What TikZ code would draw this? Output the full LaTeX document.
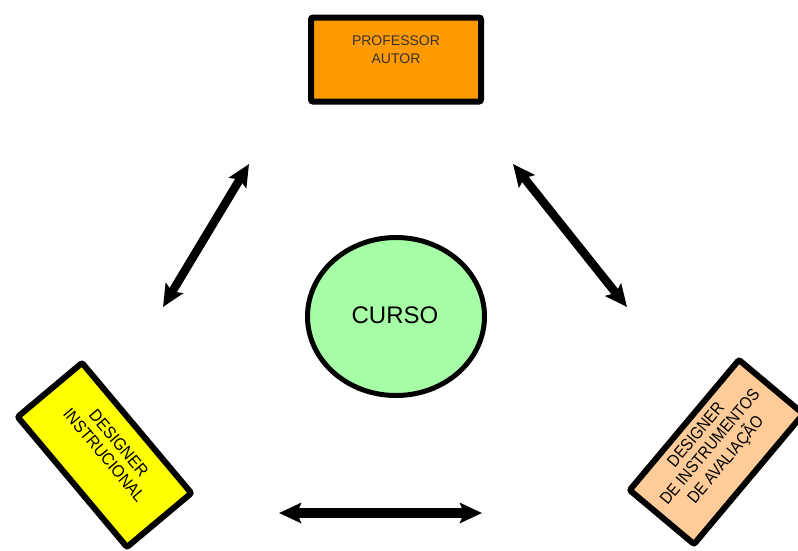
\documentclass[tikz,border=0pt]{standalone}
\usepackage{fontspec}
\setmainfont{Liberation Sans}
\usetikzlibrary{arrows.meta,shapes.geometric,calc}
\definecolor{orangebox}{HTML}{FF9900}
\definecolor{yellowbox}{HTML}{FFFF00}
\definecolor{peachbox}{HTML}{FFCC99}
\definecolor{greenell}{HTML}{A6FFA6}
\definecolor{proftext}{HTML}{333333}
\begin{document}
\begin{tikzpicture}[x=1pt,y=-1pt,
  box/.style={draw=black, line width=6pt, rounded corners=2pt, minimum width=170pt, minimum height=84pt, inner sep=0pt},
  txt/.style={align=center, inner sep=0pt},
  tip/.tip={Stealth[length=22pt,width=20pt,inset=4pt]},
  dbl/.style={line width=8.5pt, {tip}-{tip}}]
\useasboundingbox (0,0) rectangle (798,550);
\clip (0,0) rectangle (798,550);

% boxes
\node[box, fill=orangebox] (prof) at (396,59.5) {};
\node[txt, font=\fontsize{14}{18}\selectfont, text=proftext] (profT) at ($(prof.center)!0.22!(prof.north)$) {PROFESSOR\\AUTOR};

\node[draw=black, line width=5pt, fill=greenell, ellipse, minimum width=177pt, minimum height=158pt, inner sep=0pt] (curso) at (396,316.5) {};
\node[txt, font=\fontsize{24}{28}\selectfont] (cursoT) at (395,315.5) {CURSO};

\node[box, fill=yellowbox, rotate=-50] (yel) at (104.5,455) {};
\node[txt, rotate=-50, font=\fontsize{17}{19}\selectfont] (yelT) at ($(yel.center)!0.16!(yel.north)$) {\scalebox{0.92}[1]{\begin{tabular}{@{}c@{}}DESIGNER\\INSTRUCIONAL\end{tabular}}};

\node[box, fill=peachbox, rotate=50] (pea) at (716.5,452) {};
\node[txt, rotate=50, font=\fontsize{17}{18.5}\selectfont] (peaT) at ($(pea.center)!0.13!(pea.north)$) {\scalebox{0.88}[1]{\begin{tabular}{@{}c@{}}DESIGNER\\DE INSTRUMENTOS\\DE AVALIAÇÃO\end{tabular}}};

% arrows
\coordinate (aL1) at (163,307);
\coordinate (aL2) at (249,164);
\coordinate (aR1) at (513,164);
\coordinate (aR2) at (627,307);
\coordinate (aB1) at (279,513);
\coordinate (aB2) at (482,513);
\draw[dbl] (aL1) -- (aL2);
\draw[dbl] (aR1) -- (aR2);
\draw[dbl, line width=9.5pt] (aB1) -- (aB2);
\end{tikzpicture}
\end{document}
